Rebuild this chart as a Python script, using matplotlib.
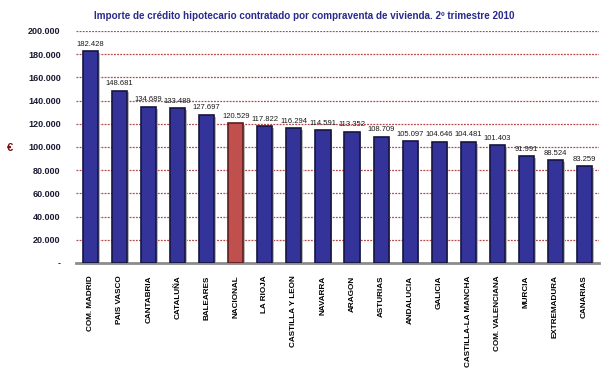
import matplotlib
matplotlib.use("Agg")
import matplotlib.pyplot as plt
from matplotlib.ticker import FuncFormatter

categories = ["COM. MADRID", "PAIS VASCO", "CANTABRIA", "CATALUÑA", "BALEARES",
              "NACIONAL", "LA RIOJA", "CASTILLA Y LEON", "NAVARRA", "ARAGON",
              "ASTURIAS", "ANDALUCIA", "GALICIA", "CASTILLA-LA MANCHA",
              "COM. VALENCIANA", "MURCIA", "EXTREMADURA", "CANARIAS"]
values = [182428, 148681, 134689, 133489, 127697, 120529, 117822, 116294,
          114591, 113352, 108709, 105097, 104646, 104481, 101403, 91991,
          88524, 83259]
highlight = "NACIONAL"
yticks = list(range(0, 200001, 20000))

plt.rcParams["font.family"] = ["Liberation Sans", "DejaVu Sans"]

fig = plt.figure(figsize=(6.10, 3.74), dpi=100)
ax = fig.add_axes([76/610, 1-263/374, (599-76)/610, (263-31)/374])

x = list(range(len(categories)))
colors = ["#C0504D" if c == highlight else "#333399" for c in categories]
edges = ["#5a1e1e" if c == highlight else "#15153f" for c in categories]
ax.bar([i + 0.06 for i in x], values, width=0.52, color="#b8b8b8", zorder=2, bottom=-1500)
ax.bar(x, values, width=0.52, color=colors, edgecolor=edges, linewidth=1.2, zorder=3)

def fmt(v, pos=None):
    if v == 0:
        return "-"
    return f"{int(v):,}".replace(",", ".")

for i, v in enumerate(values):
    ax.text(i, v + 3000, fmt(v), ha="center", va="bottom", fontsize=5.5,
            color="#1a1a1a", zorder=4)

ax.set_xlim(-0.5, len(categories) - 0.5)
ax.set_ylim(0, 200000)
ax.set_yticks(yticks)
ax.yaxis.set_major_formatter(FuncFormatter(fmt))
ax.grid(axis="y", color="#b84848", linestyle=(0, (1.5, 1)), linewidth=0.9, zorder=1)
ax.set_axisbelow(True)
for s in ["top", "right", "left"]:
    ax.spines[s].set_visible(False)
ax.spines["bottom"].set_color("#8c8c8c")
ax.spines["bottom"].set_linewidth(2)
ax.tick_params(axis="y", length=0, labelsize=6.5, labelcolor="#1a1a33", pad=11)
ax.tick_params(axis="x", length=0, pad=9)
ax.set_xticks(x)
ax.set_xticklabels(categories, rotation=90, fontsize=5.9, fontweight="bold",
                   va="top", ha="center")
for lab in ax.get_yticklabels():
    lab.set_fontweight("bold")

fig.text(10/610, 1-148/374, "€", fontsize=8, fontweight="bold", color="#7b1010",
         ha="center", va="center")
fig.text(304/610, 1-16/374,
         "Importe de crédito hipotecario contratado por compraventa de vivienda. 2º trimestre 2010",
         fontsize=7.1, fontweight="bold", color="#2a2a8c", ha="center", va="center")

fig.savefig("out.png", dpi=100)
